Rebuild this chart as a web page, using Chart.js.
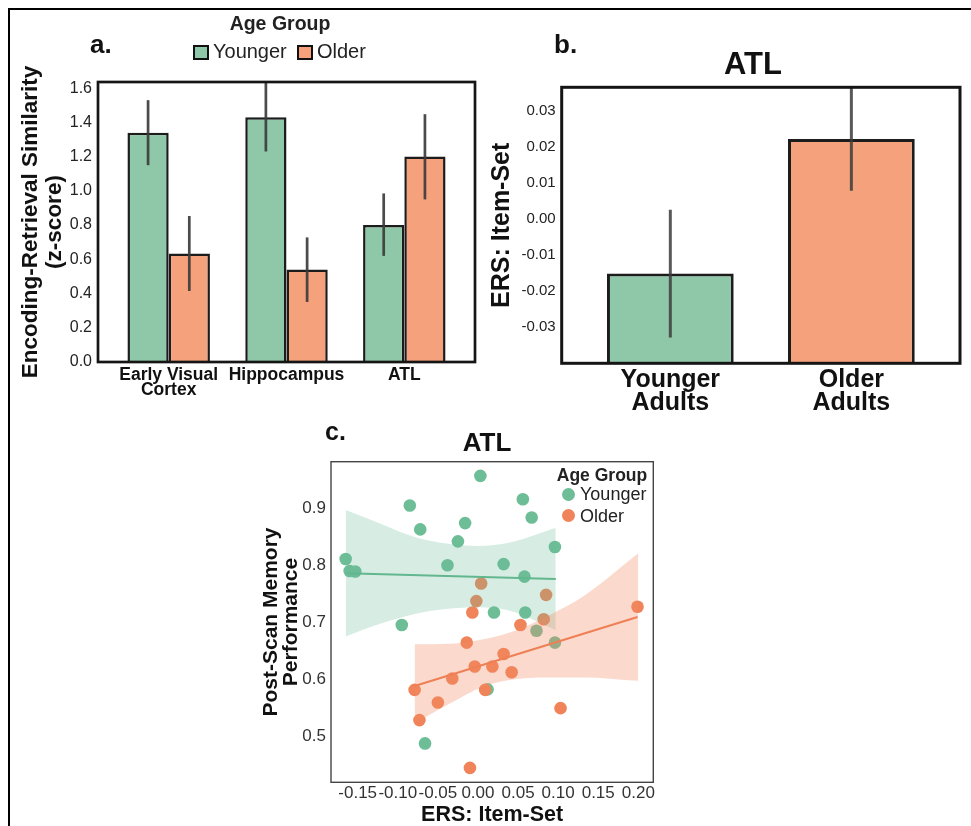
<!DOCTYPE html>
<html>
<head>
<meta charset="utf-8">
<script src="https://cdn.jsdelivr.net/npm/chart.js@4.4.1/dist/chart.umd.min.js"></script>
<style>
  body { margin: 0; background: #fff; font-family: 'Liberation Sans', Arial, sans-serif; }
  #page { position: relative; width: 971px; height: 826px; overflow: hidden; }
  #border { position: absolute; left: 8px; top: 8px; width: 980px; height: 840px;
            border-top: 2.4px solid #000; border-left: 2.4px solid #000; }
  canvas { position: absolute; }
  .txt { position: absolute; line-height: 1; white-space: nowrap; color: #111; }
  .ctr { transform: translate(-50%, -50%); }
  .mid { transform: translateY(-50%); }
  .box { position: absolute; box-sizing: border-box; width: 15.5px; height: 15.5px; border: 2.5px solid #111; }
  .dot { position: absolute; width: 13px; height: 13px; border-radius: 50%; }
</style>
</head>
<body>
<div id="page">
  <div id="border"></div>
  <canvas id="chartA" width="490" height="410" style="left:0;top:0"></canvas>
  <canvas id="chartB" width="485" height="420" style="left:486px;top:0"></canvas>
  <canvas id="chartC" width="420" height="406" style="left:250px;top:420px"></canvas>

  <div class="txt" style="left:90px;top:31px;font-size:26px;font-weight:bold">a.</div>
  <div class="txt" style="left:554px;top:31px;font-size:26px;font-weight:bold">b.</div>
  <div class="txt" style="left:325px;top:419px;font-size:25px;font-weight:bold">c.</div>

  <!-- panel a legend -->
  <div class="txt ctr" style="left:280px;top:24px;font-size:19.5px;font-weight:bold;color:#222">Age Group</div>
  <div class="box" style="left:193px;top:44.5px;background:#8fc8a9"></div>
  <div class="txt mid" style="left:213px;top:51px;font-size:20px;color:#222">Younger</div>
  <div class="box" style="left:297px;top:44.5px;background:#f5a17b"></div>
  <div class="txt mid" style="left:317px;top:51px;font-size:20px;color:#222">Older</div>

  <!-- titles -->
  <div class="txt ctr" style="left:753px;top:63px;font-size:31px;font-weight:bold">ATL</div>
  <div class="txt ctr" style="left:487px;top:442px;font-size:26px;font-weight:bold">ATL</div>

  <!-- panel c legend -->
  <div class="txt ctr" style="left:602px;top:476px;font-size:17.5px;font-weight:bold;color:#222">Age Group</div>
  <div class="dot" style="left:561.8px;top:487.5px;background:#6dbd97"></div>
  <div class="txt mid" style="left:580px;top:494px;font-size:18px;color:#222">Younger</div>
  <div class="dot" style="left:561.8px;top:509.2px;background:#f0835a"></div>
  <div class="txt mid" style="left:580px;top:515.7px;font-size:18px;color:#222">Older</div>
</div>

<script>
// ---- a. encoding-retrieval similarity by region ----
const regions = [['Early Visual', 'Cortex'], 'Hippocampus', 'ATL'];
const youngerERS = [1.34, 1.43, 0.80];
const youngerLow = [1.15, 1.23, 0.62];
const youngerHigh = [1.53, 1.65, 0.985];
const olderERS = [0.634, 0.541, 1.20];
const olderLow = [0.415, 0.351, 0.95];
const olderHigh = [0.853, 0.728, 1.448];
const ticksA = [0, 0.2, 0.4, 0.6, 0.8, 1.0, 1.2, 1.4, 1.6];

// ---- b. ATL item-set ERS ----
const groupsB = [['Younger', 'Adults'], ['Older', 'Adults']];
const atlItemSet = [-0.0152, 0.0222];
const atlLow = [-0.0330, 0.0078];
const atlHigh = [0.0025, 0.038];
const ticksB = [-0.03, -0.02, -0.01, 0, 0.01, 0.02, 0.03];

// ---- c. ERS vs post-scan memory ----
const youngerX = [0.003, -0.085, 0.056, 0.067, -0.072, -0.016, -0.025, 0.096, -0.165, -0.160, -0.153,
                  -0.038, 0.032, 0.058, 0.020, 0.059, -0.095, 0.073, 0.096, -0.066, 0.012];
const youngerMem = [0.957, 0.905, 0.916, 0.884, 0.863, 0.874, 0.842, 0.832, 0.811, 0.790, 0.789,
                    0.800, 0.802, 0.780, 0.717, 0.717, 0.695, 0.685, 0.664, 0.487, 0.582];
const olderX = [0.199, 0.004, -0.002, 0.085, 0.082, -0.007, 0.053, -0.014, 0.032, -0.004,
                0.018, 0.042, -0.032, -0.079, 0.009, -0.050, -0.073, 0.103, -0.010];
const olderMem = [0.727, 0.768, 0.737, 0.748, 0.705, 0.717, 0.695, 0.664, 0.644, 0.622,
                  0.622, 0.612, 0.601, 0.581, 0.581, 0.559, 0.528, 0.549, 0.444];
const youngerFitX = [-0.164, 0.097];
const youngerFitY = [0.786, 0.776];
const olderFitX = [-0.079, 0.199];
const olderFitY = [0.588, 0.709];
const youngerBandX = [-0.165, -0.12, -0.08, -0.04, 0.0, 0.04, 0.097];
const youngerBandHi = [0.897, 0.872, 0.850, 0.838, 0.834, 0.840, 0.866];
const youngerBandLo = [0.675, 0.698, 0.714, 0.723, 0.726, 0.720, 0.686];
const olderBandX = [-0.079, -0.035, 0.007, 0.048, 0.09, 0.131, 0.2];
const olderBandHi = [0.661, 0.662, 0.670, 0.686, 0.713, 0.745, 0.821];
const olderBandLo = [0.522, 0.557, 0.587, 0.600, 0.603, 0.603, 0.597];
const ticksCX = [-0.15, -0.10, -0.05, 0, 0.05, 0.10, 0.15, 0.20];
const ticksCY = [0.5, 0.6, 0.7, 0.8, 0.9];

const GREEN_BAR = '#8fc8a9', ORANGE_BAR = '#f5a17b';
const GREEN_PT = '#6dbd97', ORANGE_PT = '#f0835a';

Chart.defaults.font.family = "'Liberation Sans', Arial, sans-serif";
Chart.defaults.color = '#222';

const pts = (xs, ys) => xs.map((x, i) => ({x: x, y: ys[i]}));
const noGrid = {display: false, drawTicks: false};

// box round the plot area
const framePlugin = {
  id: 'frame',
  afterDraw(chart, args, opts) {
    const {ctx, chartArea: a} = chart;
    ctx.save();
    ctx.strokeStyle = opts.color;
    ctx.lineWidth = opts.width;
    ctx.strokeRect(a.left, a.top, a.right - a.left, a.bottom - a.top);
    ctx.restore();
  }
};

// vertical CI lines on the bars
const errorBarPlugin = {
  id: 'errorBars',
  afterDatasetsDraw(chart, args, opts) {
    const {ctx, chartArea: a} = chart;
    const y = chart.scales.y;
    ctx.save();
    ctx.beginPath();
    ctx.rect(a.left, a.top, a.right - a.left, a.bottom - a.top);
    ctx.clip();
    ctx.strokeStyle = opts.color;
    ctx.lineWidth = opts.width;
    chart.data.datasets.forEach((ds, i) => {
      if (!ds.errLow) return;
      chart.getDatasetMeta(i).data.forEach((bar, j) => {
        ctx.beginPath();
        ctx.moveTo(bar.x, y.getPixelForValue(ds.errLow[j]));
        ctx.lineTo(bar.x, y.getPixelForValue(ds.errHigh[j]));
        ctx.stroke();
      });
    });
    ctx.restore();
  }
};

new Chart(document.getElementById('chartA'), {
  type: 'bar',
  plugins: [framePlugin, errorBarPlugin],
  data: {
    datasets: [
      {label: 'Younger', data: youngerERS.map((v, i) => ({x: i, y: v})), errLow: youngerLow, errHigh: youngerHigh,
       backgroundColor: GREEN_BAR, borderColor: '#1c1c1c', borderWidth: 2.5, categoryPercentage: 0.7, barPercentage: 1},
      {label: 'Older', data: olderERS.map((v, i) => ({x: i, y: v})), errLow: olderLow, errHigh: olderHigh,
       backgroundColor: ORANGE_BAR, borderColor: '#1c1c1c', borderWidth: 2.5, categoryPercentage: 0.7, barPercentage: 1}
    ]
  },
  options: {
    responsive: false, animation: false, events: [],
    layout: {padding: {left: 0, top: 82, right: 15, bottom: 0}},
    plugins: {
      legend: {display: false}, tooltip: {enabled: false},
      frame: {color: '#151515', width: 2.7},
      errorBars: {color: 'rgba(60,60,60,0.92)', width: 2.7}
    },
    scales: {
      x: {
        type: 'linear', min: -0.6, max: 2.6, offset: false, grid: noGrid, border: {display: false},
        afterBuildTicks: s => { s.ticks = regions.map((r, i) => ({value: i})); },
        ticks: {callback: v => regions[v], autoSkip: false, maxRotation: 0, minRotation: 0, padding: 5.5,
                color: '#111', font: {size: 17.5, weight: 'bold', lineHeight: 0.88}},
        afterFit: s => { s.height = 48; }
      },
      y: {
        min: 0, max: 1.636, grid: noGrid, border: {display: false},
        afterBuildTicks: s => { s.ticks = ticksA.map(v => ({value: v})); },
        ticks: {callback: v => v.toFixed(1), padding: 6, color: '#222', font: {size: 16}},
        title: {display: true, text: ['Encoding-Retrieval Similarity', '(z-score)'], color: '#111',
                font: {size: 22.5, weight: 'bold', lineHeight: 1.1}, padding: {top: 18, bottom: 0}},
        afterFit: s => { s.width = 98; }
      }
    }
  }
});

new Chart(document.getElementById('chartB'), {
  type: 'bar',
  plugins: [framePlugin, errorBarPlugin],
  data: {
    datasets: [
      {label: 'ATL', data: atlItemSet.map((v, i) => ({x: i, y: v})), errLow: atlLow, errHigh: atlHigh,
       base: -0.06, backgroundColor: [GREEN_BAR, ORANGE_BAR], borderColor: '#1c1c1c', borderWidth: 3,
       categoryPercentage: 0.7, barPercentage: 1}
    ]
  },
  options: {
    responsive: false, animation: false, events: [],
    layout: {padding: {left: 0, top: 87.3, right: 11, bottom: 0}},
    plugins: {
      legend: {display: false}, tooltip: {enabled: false},
      frame: {color: '#151515', width: 3},
      errorBars: {color: 'rgba(60,60,60,0.85)', width: 3}
    },
    scales: {
      x: {
        type: 'linear', min: -0.6, max: 1.6, offset: false, grid: noGrid, border: {display: false},
        afterBuildTicks: s => { s.ticks = groupsB.map((g, i) => ({value: i})); },
        ticks: {callback: v => groupsB[v], autoSkip: false, maxRotation: 0, minRotation: 0, padding: 6,
                color: '#111', font: {size: 25, weight: 'bold', lineHeight: 0.9}},
        afterFit: s => { s.height = 56.7; }
      },
      y: {
        min: -0.0402, max: 0.0366, grid: noGrid, border: {display: false},
        afterBuildTicks: s => { s.ticks = ticksB.map(v => ({value: v})); },
        ticks: {callback: v => v.toFixed(2), padding: 6, color: '#222', font: {size: 15}},
        title: {display: true, text: 'ERS: Item-Set', color: '#111',
                font: {size: 25, weight: 'bold', lineHeight: 1}, padding: {top: 3.2, bottom: 0}},
        afterFit: s => { s.width = 75.7; }
      }
    }
  }
});

const bandLine = {type: 'line', pointRadius: 0, borderWidth: 0, borderColor: 'transparent',
                  cubicInterpolationMode: 'monotone'};

new Chart(document.getElementById('chartC'), {
  type: 'scatter',
  plugins: [framePlugin],
  data: {
    datasets: [
      {type: 'line', label: 'Older fit', data: pts(olderFitX, olderFitY), borderColor: '#ef7f55',
       borderWidth: 2, pointRadius: 0, fill: false, order: 0},
      {type: 'line', label: 'Younger fit', data: pts(youngerFitX, youngerFitY), borderColor: '#62b78f',
       borderWidth: 2, pointRadius: 0, fill: false, order: 1},
      Object.assign({}, bandLine, {label: 'Older CI', data: pts(olderBandX, olderBandHi), fill: '+1',
       backgroundColor: 'rgba(244,140,100,0.33)', order: 2}),
      Object.assign({}, bandLine, {label: 'Older CI low', data: pts(olderBandX, olderBandLo), fill: false, order: 3}),
      Object.assign({}, bandLine, {label: 'Younger CI', data: pts(youngerBandX, youngerBandHi), fill: '+1',
       backgroundColor: 'rgba(108,189,150,0.27)', order: 4}),
      Object.assign({}, bandLine, {label: 'Younger CI low', data: pts(youngerBandX, youngerBandLo), fill: false, order: 5}),
      {label: 'Older', data: pts(olderX, olderMem), backgroundColor: ORANGE_PT, borderWidth: 0,
       pointRadius: 6.3, order: 6},
      {label: 'Younger', data: pts(youngerX, youngerMem), backgroundColor: GREEN_PT, borderWidth: 0,
       pointRadius: 6.3, order: 7}
    ]
  },
  options: {
    responsive: false, animation: false, events: [],
    layout: {padding: {left: 0, top: 41.7, right: 16.7, bottom: 0}},
    plugins: {
      legend: {display: false}, tooltip: {enabled: false},
      frame: {color: '#444', width: 1.4}
    },
    scales: {
      x: {
        type: 'linear', min: -0.1833, max: 0.2187, grid: noGrid, border: {display: false},
        afterBuildTicks: s => { s.ticks = ticksCX.map(v => ({value: v})); },
        ticks: {callback: v => v.toFixed(2), autoSkip: false, maxRotation: 0, minRotation: 0, padding: 1,
                color: '#333', font: {size: 17}},
        title: {display: true, text: 'ERS: Item-Set', color: '#111',
                font: {size: 21.5, weight: 'bold', lineHeight: 1}, padding: {top: 0, bottom: 0.5}},
        afterFit: s => { s.height = 43.7; }
      },
      y: {
        type: 'linear', min: 0.4187, max: 0.9819, grid: noGrid, border: {display: false},
        afterBuildTicks: s => { s.ticks = ticksCY.map(v => ({value: v})); },
        ticks: {callback: v => v.toFixed(1), padding: 5, color: '#333', font: {size: 17}},
        title: {display: true, text: ['Post-Scan Memory', 'Performance'], color: '#111',
                font: {size: 21, weight: 'bold', lineHeight: 0.93}, padding: {top: 11.5, bottom: 0}},
        afterFit: s => { s.width = 81; }
      }
    }
  }
});
</script>
</body>
</html>
